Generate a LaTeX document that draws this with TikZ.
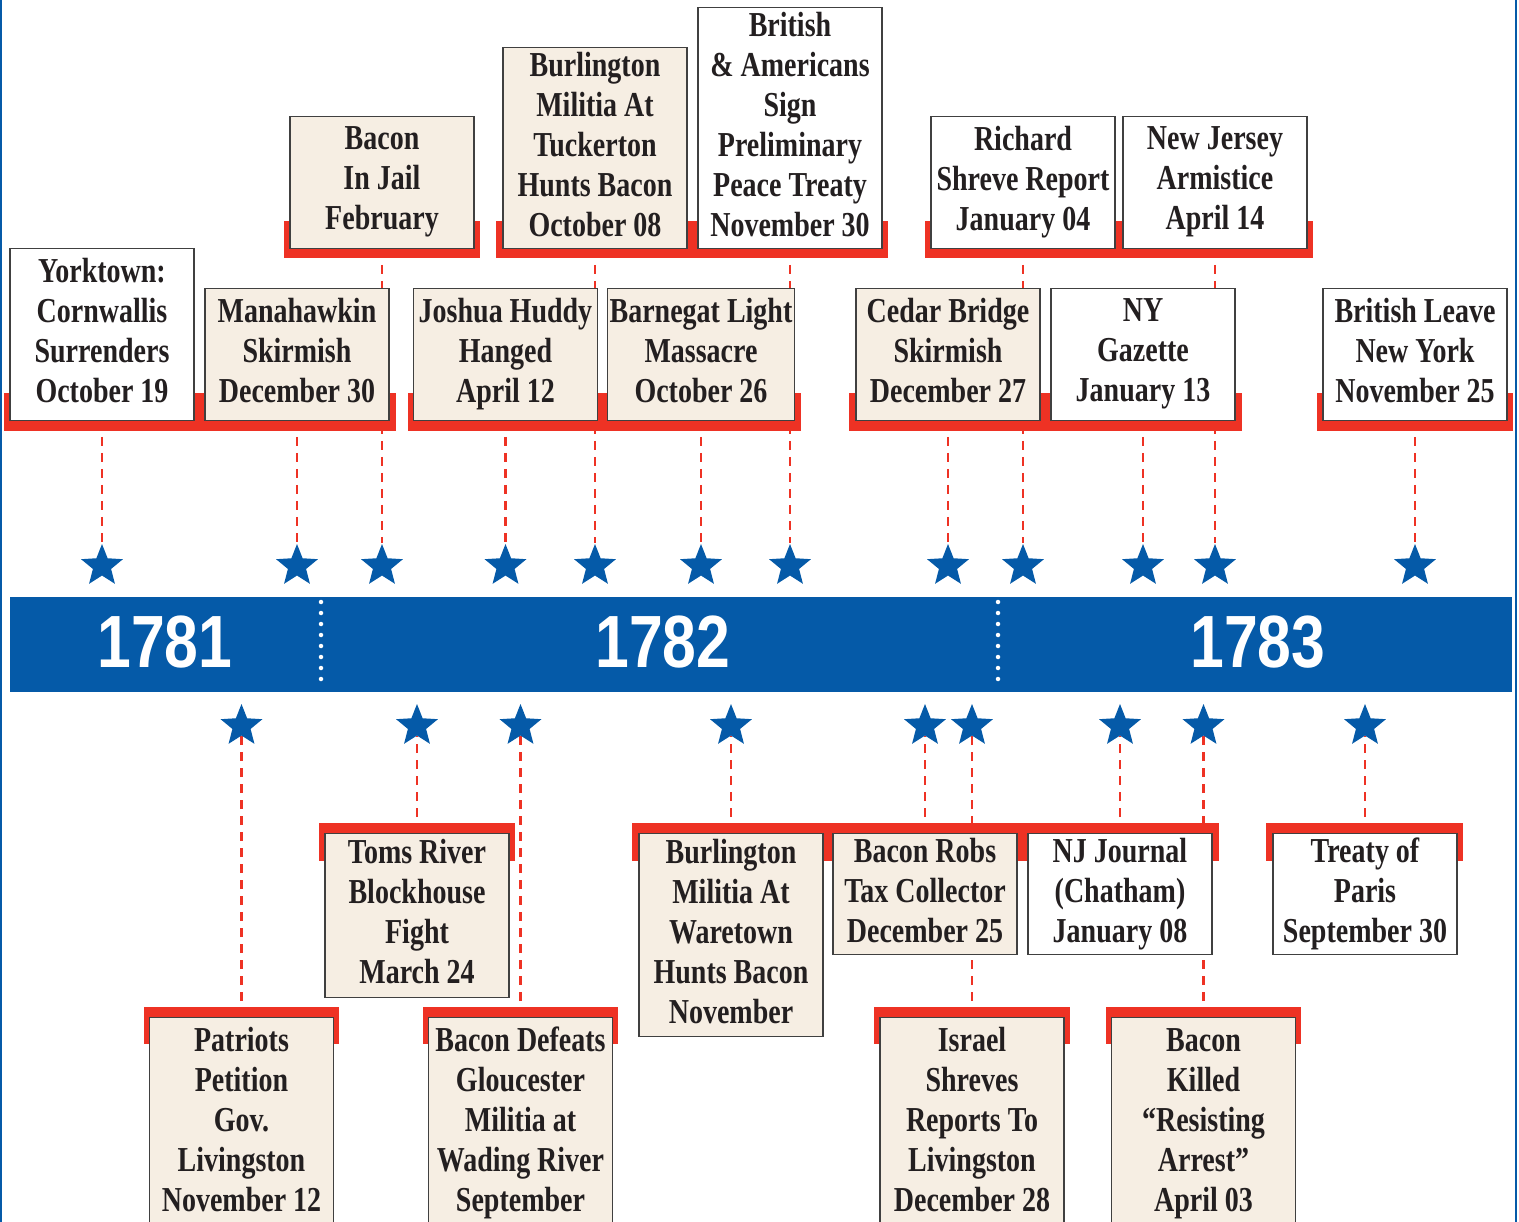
\documentclass[tikz,border=0pt]{standalone}
\usepackage{fontspec}
\newfontfamily\evfont{Liberation Serif}[FakeStretch=0.8]
\newfontfamily\yearfont{Liberation Sans}[FakeStretch=0.82]
\usetikzlibrary{shapes.geometric,calc,backgrounds}

\definecolor{evblue}{HTML}{055AA8}
\definecolor{evred}{HTML}{EE3224}
\definecolor{evbeige}{HTML}{F6EEE3}
\definecolor{evgray}{HTML}{404040}
\definecolor{evtext}{HTML}{231F20}

\tikzset{
    event/.style={draw=evgray, line width=1.2pt, fill=white, text=evtext,
        align=center, minimum width=184pt, minimum height=#1pt, inner sep=2pt,
        font=\evfont\bfseries\fontsize{35}{40}\selectfont,
        execute at begin node={\rule{0pt}{32pt}},
        execute at end node={\rule[-8pt]{0pt}{8pt}}},
    beige/.style={fill=evbeige},
    evstar/.style={star, star points=5, star point ratio=2.3, minimum size=44pt,
        inner sep=0pt, fill=evblue, draw=none},
    link/.style={evred, line width=2.5pt, dash pattern=on 9pt off 7pt},
    redband/.style={fill=evred},
    year/.style={text=white, inner sep=0pt,
        font=\yearfont\bfseries\fontsize{74}{74}\selectfont}
}

\begin{document}
\begin{tikzpicture}[x=1pt, y=-1pt]
    \useasboundingbox (0,0) rectangle (1519,1222);
    \clip (0,0) rectangle (1519,1222);

    % time band
    \fill[evblue] (10,597) rectangle (1512,692);
    \draw[white, line width=4.5pt, line cap=round, dash pattern=on 0pt off 11pt] (321,602) -- (321,690);
    \draw[white, line width=4.5pt, line cap=round, dash pattern=on 0pt off 11pt] (998,602) -- (998,690);
    \node[year] (y1781) at (165,642) {1781};
    \node[year] (y1782) at (663,642) {1782};
    \node[year] (y1783) at (1258,642) {1783};

    % upper events
    \node[event=172, anchor=south] (yorktown) at (102,421) {Yorktown:\\Cornwallis\\Surrenders\\October 19};
    \node[event=132, beige, anchor=south] (manahawkin) at (297,421) {Manahawkin\\Skirmish\\December 30};
    \node[event=132, beige, anchor=south] (huddy) at (505.5,421) {Joshua Huddy\\Hanged\\April 12};
    \node[event=132, beige, anchor=south] (barnegat) at (701,421) {Barnegat Light\\Massacre\\October 26};
    \node[event=132, beige, anchor=south] (cedar) at (948,421) {Cedar Bridge\\Skirmish\\December 27};
    \node[event=132, anchor=south] (gazette) at (1143,421) {NY\\Gazette\\January 13};
    \node[event=132, anchor=south] (leave) at (1415,421) {British Leave\\New York\\November 25};

    \node[event=132, beige, anchor=south] (jail) at (382,249) {Bacon\\In Jail\\February};
    \node[event=201, beige, anchor=south] (tuckerton) at (595,249) {Burlington\\Militia At\\Tuckerton\\Hunts Bacon\\October 08};
    \node[event=241, anchor=south] (prelim) at (790,249) {British\\\& Americans\\Sign\\Preliminary\\Peace Treaty\\November 30};
    \node[event=132, anchor=south] (shreve) at (1023,249) {Richard\\Shreve Report\\January 04};
    \node[event=132, anchor=south] (armistice) at (1215,249) {New Jersey\\Armistice\\April 14};

    % lower events
    \node[event=164, beige, anchor=north] (toms) at (417,833) {Toms River\\Blockhouse\\Fight\\March 24};
    \node[event=203, beige, anchor=north] (waretown) at (731,833) {Burlington\\Militia At\\Waretown\\Hunts Bacon\\November};
    \node[event=121, beige, anchor=north] (robs) at (925,833) {Bacon Robs\\Tax Collector\\December 25};
    \node[event=121, anchor=north] (journal) at (1120,833) {NJ Journal\\(Chatham)\\January 08};
    \node[event=121, anchor=north] (paris) at (1365,833) {Treaty of\\Paris\\September 30};

    \node[event=212, beige, anchor=north] (patriots) at (241.5,1017) {Patriots\\Petition\\Gov.\\Livingston\\November 12};
    \node[event=212, beige, anchor=north] (defeats) at (520.5,1017) {Bacon Defeats\\Gloucester\\Militia at\\Wading River\\September};
    \node[event=212, beige, anchor=north] (israel) at (972,1017) {Israel\\Shreves\\Reports To\\Livingston\\December 28};
    \node[event=212, beige, anchor=north] (killed) at (1203.5,1017) {Bacon\\Killed\\“Resisting\\Arrest”\\April 03};

    % stars
    \foreach \ev in {yorktown,manahawkin,jail,huddy,tuckerton,barnegat,prelim,cedar,shreve,gazette,armistice,leave}
        \node[evstar] (star-\ev) at (\ev |- 0,566) {};
    \foreach \ev in {patriots,toms,defeats,waretown,robs,israel,journal,killed,paris}
        \node[evstar] (star-\ev) at (\ev |- 0,726) {};

    \begin{scope}[on background layer]
        % connectors
        \foreach \ev in {yorktown,manahawkin,jail,huddy,tuckerton,barnegat,prelim,cedar,shreve,gazette,armistice,leave,
                         patriots,toms,defeats,waretown,robs,israel,journal,killed,paris}
            \draw[link] (\ev) -- (star-\ev);

        % red brackets
        \fill[redband] ($(yorktown.south west)+(-5,-28)$) rectangle ($(manahawkin.south east)+(6,10)$);
        \fill[redband] ($(huddy.south west)+(-5,-28)$) rectangle ($(barnegat.south east)+(6,10)$);
        \fill[redband] ($(cedar.south west)+(-6,-28)$) rectangle ($(gazette.south east)+(6,10)$);
        \fill[redband] ($(leave.south west)+(-5,-28)$) rectangle ($(leave.south east)+(5,10)$);
        \fill[redband] ($(jail.south west)+(-5,-28)$) rectangle ($(jail.south east)+(5,9)$);
        \fill[redband] ($(tuckerton.south west)+(-6,-28)$) rectangle ($(prelim.south east)+(5,9)$);
        \fill[redband] ($(shreve.south west)+(-5,-28)$) rectangle ($(armistice.south east)+(5,9)$);

        \fill[redband] ($(toms.north west)+(-5,-10)$) rectangle ($(toms.north east)+(5,28)$);
        \fill[redband] ($(waretown.north west)+(-6,-10)$) rectangle ($(journal.north east)+(6,28)$);
        \fill[redband] ($(paris.north west)+(-6,-10)$) rectangle ($(paris.north east)+(5,28)$);
        \fill[redband] ($(patriots.north west)+(-5,-10)$) rectangle ($(patriots.north east)+(5,27)$);
        \fill[redband] ($(defeats.north west)+(-5,-10)$) rectangle ($(defeats.north east)+(5,27)$);
        \fill[redband] ($(israel.north west)+(-5,-10)$) rectangle ($(israel.north east)+(5,27)$);
        \fill[redband] ($(killed.north west)+(-5,-10)$) rectangle ($(killed.north east)+(5,27)$);
    \end{scope}

    % frame edges
    \draw[evblue, line width=2pt] (1,0) -- (1,1222);
    \draw[evblue, line width=2pt] (1516,0) -- (1516,1222);
\end{tikzpicture}
\end{document}
